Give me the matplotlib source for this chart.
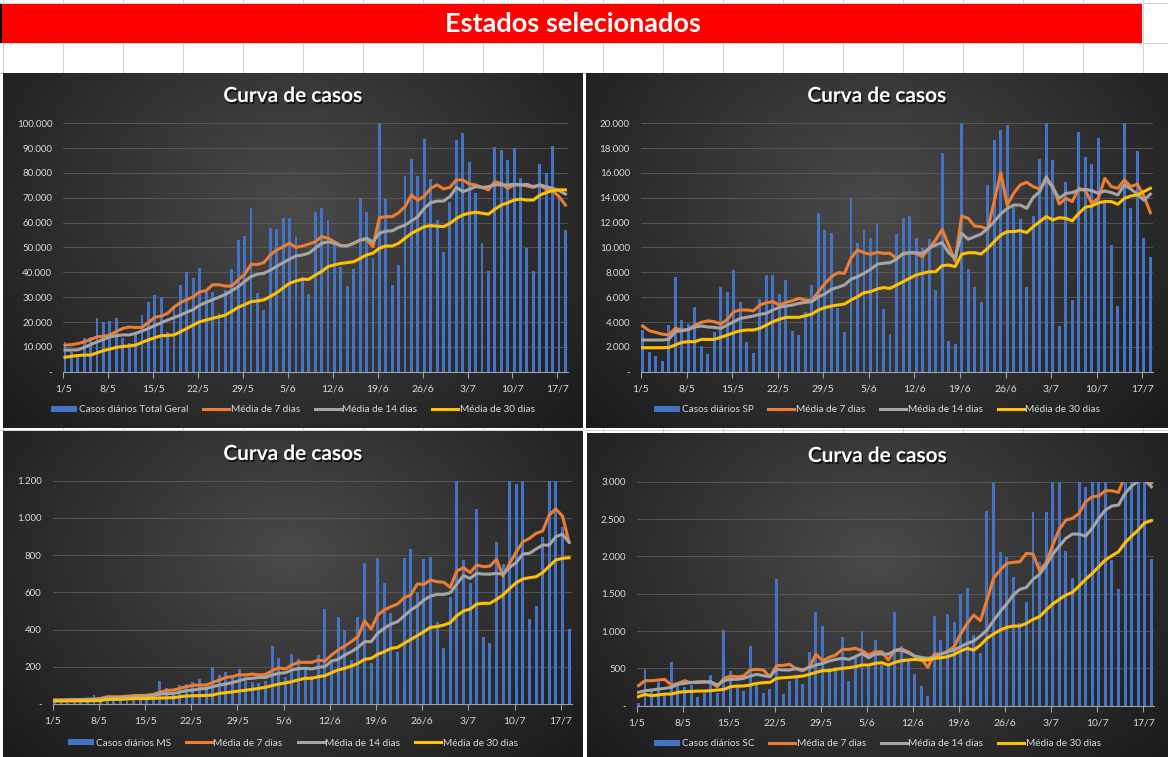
import numpy as np
import matplotlib
matplotlib.use('Agg')
import matplotlib.pyplot as plt
import matplotlib.patheffects as pe
from matplotlib.patches import Rectangle

plt.rcParams['font.family'] = ['Lato', 'DejaVu Sans']

# --- data ---
date_labels = ['1/5', '8/5', '15/5', '22/5', '29/5', '5/6', '12/6', '19/6',
               '26/6', '3/7', '10/7', '17/7']

tg_daily = [12000, 8000, 7000, 13400, 14000, 21500, 20000, 20500, 21500, 13400,
            11400, 16000, 22800, 28000, 30900, 30200, 16000, 26400, 35000, 40300,
            37600, 41600, 32200, 32000, 23500, 33000, 41300, 53000, 54600, 66000,
            31800, 24800, 57700, 57400, 62000, 62000, 54400, 38300, 31300, 64400,
            66000, 61000, 51700, 42300, 34500, 41300, 70000, 64400, 45600, 100000,
            69400, 34900, 43000, 78800, 85600, 78800, 93700, 77600, 61000, 48300,
            68500, 93300, 96000, 84600, 72000, 52000, 40500, 90600, 89300, 85200,
            90000, 77900, 49700, 40500, 83500, 79900, 90900, 70000, 57000]
tg_m7 = [10700, 10900, 11300, 12000, 13000, 14000, 14300, 14800, 16200, 17400,
         18000, 17800, 17800, 19800, 21900, 22400, 23500, 26000, 27800, 29000,
         30200, 32200, 32600, 35000, 35000, 34500, 34500, 37000, 39200, 43200,
         43200, 43900, 47000, 49000, 50300, 51700, 50000, 50600, 51400, 52300,
         54400, 53700, 52300, 50700, 50700, 51700, 53000, 53300, 50300, 62000,
         62400, 62400, 64000, 66400, 71100, 69000, 70700, 73800, 75200, 73600,
         74200, 77200, 77200, 75600, 75200, 74200, 73200, 76500, 75800, 73800,
         75200, 75200, 74800, 74200, 75200, 73400, 72900, 70500, 67100]
tg_m14 = [8700, 8700, 8800, 9800, 10900, 12000, 13000, 14000, 14500, 14800,
          14800, 15400, 16400, 17400, 18600, 19700, 20800, 21800, 22800, 24000,
          25000, 26800, 27900, 29000, 30000, 31100, 32600, 34200, 36300, 38300,
          39300, 39600, 40900, 42400, 43900, 45300, 46600, 47000, 47700, 49700,
          51700, 52300, 51700, 50700, 50700, 51700, 53000, 53700, 52300, 55700,
          56600, 56700, 58100, 59000, 60700, 62400, 65800, 68000, 68700, 68700,
          70500, 74200, 72500, 73400, 74500, 74200, 74500, 75200, 75200, 75200,
          75400, 75200, 75400, 74500, 75200, 74500, 73800, 72900, 71500]
tg_m30 = [5800, 6200, 6500, 6700, 6700, 7600, 8500, 9100, 9800, 10100,
          10400, 10700, 11800, 12800, 13700, 14500, 14600, 14800, 16100, 17400,
          18800, 20100, 20800, 21500, 22100, 22800, 24300, 25900, 27000, 28200,
          28500, 28900, 30300, 31800, 33700, 35600, 36500, 37200, 37200, 38900,
          40300, 42300, 43000, 43600, 43900, 44300, 45600, 47000, 47700, 49700,
          50600, 50600, 51700, 53700, 55700, 57000, 58400, 58800, 58600, 58400,
          59700, 61700, 63100, 63800, 64200, 63800, 63400, 65400, 67100, 68000,
          69100, 69500, 69100, 69100, 71100, 72100, 72900, 73200, 73200]

sp_daily = [3360, 1600, 1260, 860, 3760, 7600, 4160, 3840, 5240, 2070,
            1420, 3200, 6800, 6400, 8200, 5600, 2360, 1480, 5830, 7800,
            7800, 6260, 7400, 3280, 2950, 4780, 6980, 12750, 11400, 11140,
            5100, 3170, 14000, 10340, 11400, 10740, 12000, 5050, 3000, 11100,
            12400, 12500, 10740, 9940, 10660, 6580, 17600, 2470, 2230, 21000,
            8270, 6800, 5600, 15040, 18660, 19500, 19870, 13300, 12300, 6800,
            12500, 17100, 21000, 17050, 3680, 15250, 5770, 19330, 17260, 16700,
            18800, 13700, 10200, 5300, 21000, 13200, 17800, 10740, 9200]
sp_m7 = [3680, 3300, 3170, 3030, 2950, 3490, 3360, 3360, 3760, 3970,
         4100, 4030, 3840, 4200, 4830, 4970, 4970, 4900, 5370, 5560,
         5640, 5370, 5580, 5720, 5900, 5770, 5720, 6440, 7100, 7650,
         7970, 7920, 9130, 9800, 9580, 9450, 9610, 9530, 9530, 9130,
         9450, 9580, 9530, 9260, 9930, 10600, 11460, 10200, 8900, 12540,
         12350, 11730, 11680, 11460, 13700, 16030, 13420, 14360, 15040, 15250,
         14900, 14700, 15400, 14950, 13500, 13960, 13700, 14770, 14580, 13560,
         13960, 15570, 14900, 14770, 15440, 14900, 15100, 14150, 12800]
sp_m14 = [2550, 2550, 2550, 2550, 2600, 3220, 3300, 3400, 3600, 3680,
          3600, 3570, 3490, 3760, 4030, 4300, 4380, 4480, 4620, 4700,
          4970, 5180, 5290, 5370, 5500, 5580, 5640, 6040, 6260, 6630,
          6800, 6980, 7440, 7650, 7920, 8240, 8650, 8730, 8780, 9050,
          9530, 9580, 9580, 9530, 9930, 10200, 10390, 9580, 9130, 11140,
          10660, 10870, 11090, 11540, 12080, 12700, 13150, 13420, 13420, 13150,
          14040, 14500, 15700, 14770, 13960, 14360, 14420, 14630, 14680, 14580,
          14360, 14550, 14420, 14230, 15040, 14700, 14300, 13800, 14300]
sp_m30 = [1930, 1930, 1930, 1930, 1950, 2150, 2360, 2420, 2420, 2600,
          2600, 2600, 2770, 2950, 3140, 3300, 3360, 3360, 3490, 3760,
          4030, 4220, 4380, 4380, 4380, 4510, 4640, 4970, 5160, 5290,
          5370, 5450, 5770, 6040, 6360, 6440, 6660, 6770, 6710, 6980,
          7250, 7520, 7790, 7920, 8050, 8050, 8540, 8590, 8460, 9450,
          9580, 9580, 9480, 9930, 10470, 11000, 11280, 11280, 11360, 11200,
          11680, 12080, 12490, 12220, 12400, 12350, 12140, 12750, 13240, 13340,
          13600, 13700, 13700, 13480, 13960, 14150, 14230, 14500, 14770]

ms_daily = [22, 10, 8, 12, 15, 10, 48, 15, 40, 20, 45, 25, 35, 25, 28, 30,
            125, 88, 66, 100, 107, 116, 134, 93, 200, 156, 174, 156, 190, 138,
            120, 111, 125, 313, 249, 147, 269, 240,
            190, 150, 263, 510, 220, 466, 398, 236, 466, 756,
            219, 783, 648, 491, 281, 783, 833, 600, 777, 788,
            439, 299, 577, 1300, 774, 652, 1048, 358, 326, 869,
            750, 1300, 1182, 1250, 457, 527, 900, 1300, 1300, 949, 401]
ms_m7 = [21, 21, 22, 23, 24, 25, 25, 30, 39, 39, 39, 42, 45, 46, 47, 52,
         64, 72, 75, 84, 93, 100, 102, 102, 116, 129, 143, 147, 158, 156,
         161, 156, 159, 179, 195, 188, 210, 224,
         224, 224, 236, 231, 263, 290, 312, 335, 362, 446,
         403, 478, 505, 523, 537, 571, 586, 645, 643, 666,
         657, 654, 627, 715, 733, 706, 747, 738, 741, 777,
         688, 756, 818, 872, 890, 917, 930, 1016, 1048, 1010, 869]
ms_m14 = [21, 21, 22, 23, 24, 25, 26, 28, 32, 34, 36, 37, 39, 39, 40, 45,
          54, 55, 57, 64, 72, 75, 81, 84, 93, 102, 107, 116, 125, 136,
          138, 143, 143, 156, 165, 168, 183, 190,
          192, 188, 197, 201, 231, 240, 263, 281, 304, 335,
          335, 380, 407, 430, 442, 473, 505, 527, 559, 580,
          589, 589, 598, 645, 690, 675, 702, 698, 698, 702,
          698, 734, 761, 806, 810, 833, 854, 854, 899, 913, 869]
ms_m30 = [16, 16, 16, 17, 17, 17, 18, 18, 25, 25, 25, 27, 29, 29, 29, 31,
          32, 33, 34, 39, 43, 44, 45, 46, 48, 57, 61, 65, 70, 74,
          79, 84, 90, 99, 107, 113, 120, 130,
          138, 138, 147, 152, 168, 183, 192, 204, 218, 240,
          245, 267, 281, 299, 304, 326, 347, 367, 389, 412,
          416, 424, 437, 475, 500, 510, 537, 541, 541, 562,
          586, 621, 652, 672, 679, 684, 706, 741, 774, 783, 786]

sc_daily = [40, 491, 220, 312, 160, 589, 275, 254, 275, 120,
            165, 410, 165, 1013, 468, 254, 200, 799, 300, 174,
            223, 1696, 156, 335, 366, 290, 723, 1259, 1067, 509,
            522, 924, 335, 640, 1004, 545, 879, 545,
            560, 1259, 799, 620, 424, 263, 134, 1201, 879, 1228,
            1125, 1495, 1580, 946, 710, 2607, 3200, 2053, 1995, 1728,
            1103, 1384, 2598, 1928, 2598, 3200, 3100, 2071, 1714, 3150,
            2933, 3200, 3200, 3200, 1951, 1562, 3200, 3200, 3200, 3200, 1964]
sc_m7 = [268, 335, 335, 344, 353, 277, 299, 335, 308, 321,
         321, 312, 254, 366, 397, 388, 397, 478, 487, 478,
         388, 536, 540, 554, 491, 469, 522, 687, 603, 647,
         679, 754, 754, 768, 737, 679, 723, 723,
         612, 745, 759, 723, 665, 634, 513, 692, 692, 723,
         790, 960, 1103, 1214, 1138, 1415, 1705, 1817, 1906, 1920,
         1928, 2040, 2031, 1808, 1915, 2152, 2361, 2486, 2509, 2576,
         2732, 2799, 2808, 2879, 2879, 2857, 3080, 3100, 3100, 3060, 2980]
sc_m14 = [179, 201, 210, 223, 232, 246, 286, 299, 312, 312,
          317, 321, 277, 335, 353, 353, 366, 397, 420, 402,
          388, 487, 478, 478, 500, 478, 513, 545, 567, 598,
          620, 634, 620, 656, 701, 643, 692, 692,
          692, 737, 745, 710, 665, 647, 634, 656, 692, 723,
          745, 790, 835, 866, 933, 1013, 1138, 1259, 1362, 1482,
          1558, 1585, 1692, 1759, 1884, 2027, 2138, 2241, 2299, 2299,
          2272, 2375, 2509, 2620, 2674, 2688, 2844, 2942, 3009, 3022, 2933]
sc_m30 = [121, 152, 134, 143, 156, 156, 179, 187, 192, 196,
          196, 201, 210, 219, 254, 263, 263, 277, 299, 308,
          312, 366, 375, 379, 388, 397, 420, 446, 469, 469,
          487, 500, 509, 522, 545, 545, 567, 575,
          545, 580, 603, 612, 620, 612, 612, 634, 643, 656,
          687, 732, 768, 745, 812, 902, 960, 1013, 1049, 1067,
          1067, 1103, 1156, 1192, 1281, 1362, 1424, 1482, 1518, 1603,
          1692, 1772, 1862, 1951, 2009, 2062, 2183, 2272, 2353, 2451, 2478]

W, H = 1168, 757
fig = plt.figure(figsize=(W / 100, H / 100), dpi=100)
fig.patch.set_facecolor('white')


def px_axes(l, t, r, b, **kw):
    return fig.add_axes([l / W, 1 - b / H, (r - l) / W, (b - t) / H], **kw)


# --- spreadsheet background ---
sheet = px_axes(0, 0, W, H)
sheet.set_xlim(0, W)
sheet.set_ylim(H, 0)
sheet.axis('off')
for cx in np.arange(2.7, W, 60):
    sheet.plot([cx, cx], [0, H], color='#d4d4d4', lw=0.8, zorder=1)
for ry in [3, 43, 73, 430]:
    sheet.plot([0, W], [ry, ry], color='#d4d4d4', lw=0.8, zorder=1)
sheet.add_patch(Rectangle((2, 4), 1140, 39, color='#ff0000', lw=0, zorder=2))
sheet.add_patch(Rectangle((0, 4), 2, 39, color='#111111', lw=0, zorder=2))
sheet.text(573, 23.5, 'Estados selecionados', ha='center', va='center',
           color='white', fontsize=19.5, fontweight='bold', zorder=3)


def fmt_num(v):
    if v == 0:
        return '-'
    return f'{int(v):,}'.replace(',', '.')


def draw_panel(panel_px, plot_px, ymax, ystep, daily, m7, m14, m30, label, leg_y):
    l, t, r, b = panel_px
    bg = px_axes(l, t, r, b)
    bg.axis('off')
    # radial dark gradient like the Excel chart style
    u = np.linspace(0, 1, 300)
    v = np.linspace(0, 1, 200)
    uu, vv = np.meshgrid(u, v)
    d = np.sqrt(((uu - 0.5) / 0.62) ** 2 + ((vv - 0.38) / 0.85) ** 2)
    g = np.clip(0.29 - 0.17 * d, 0.09, 0.3)
    bg.imshow(np.dstack([g, g, g]), extent=(0, 1, 0, 1), origin='upper',
              aspect='auto', interpolation='bilinear')
    bg.set_xlim(0, 1)
    bg.set_ylim(0, 1)
    ph = b - t
    bg.text(0.5, 1 - 23 / ph, 'Curva de casos', ha='center', va='center',
            color='white', fontsize=15, fontweight='bold',
            path_effects=[pe.withSimplePatchShadow(offset=(1, -1.5),
                                                   shadow_rgbFace='black',
                                                   alpha=0.7)])

    ax = px_axes(*plot_px)
    ax.set_facecolor('none')
    x = np.arange(len(daily))
    hb = ax.bar(x, daily, width=0.45, color='#4472C4', zorder=2, label=label)
    h7, = ax.plot(x, m7, color='#ED7D31', lw=2.2, zorder=3,
                  solid_joinstyle='round', label='Média de 7 dias')
    h14, = ax.plot(x, m14, color='#A5A5A5', lw=2.2, zorder=4,
                   solid_joinstyle='round', label='Média de 14 dias')
    h30, = ax.plot(x, m30, color='#FFC000', lw=2.2, zorder=5,
                   solid_joinstyle='round', label='Média de 30 dias')
    ax.set_xlim(-0.26, 78.4)
    ax.set_ylim(0, ymax)
    yt = np.arange(0, ymax + 1, ystep)
    ax.set_yticks(yt)
    ax.set_yticklabels([fmt_num(vv) for vv in yt])
    ax.set_xticks(np.arange(0, 78, 7) - 0.26)
    ax.set_xticklabels(date_labels)
    ax.grid(axis='y', color='#5c5c5c', lw=0.6, zorder=0)
    ax.set_axisbelow(True)
    for s in ['top', 'right', 'left']:
        ax.spines[s].set_visible(False)
    ax.spines['bottom'].set_color('#a0a0a0')
    ax.spines['bottom'].set_linewidth(0.8)
    ax.tick_params(axis='y', length=0, colors='#d9d9d9', labelsize=7, pad=8)
    ax.tick_params(axis='x', length=4, color='#a0a0a0', colors='#d9d9d9',
                   labelsize=7.5, pad=5)

    bg.legend([hb, h7, h14, h30],
              [label, 'Média de 7 dias', 'Média de 14 dias', 'Média de 30 dias'],
              loc='center', bbox_to_anchor=(0.5, 1 - (leg_y - t) / ph),
              ncol=4, frameon=False, fontsize=7.2, handlelength=2.6,
              handleheight=0.6, handletextpad=0.15, columnspacing=1.5,
              labelcolor='#d9d9d9')
    return ax


draw_panel((3, 73, 583, 428), (63.3, 123.3, 568, 371.7), 100000, 10000,
           tg_daily, tg_m7, tg_m14, tg_m30, 'Casos diários Total Geral', 410)
draw_panel((586, 73, 1168, 428), (641, 123.3, 1153, 371.7), 20000, 2000,
           sp_daily, sp_m7, sp_m14, sp_m30, 'Casos diários SP', 410)
draw_panel((3, 431, 583, 757), (52.7, 480.7, 571.7, 704), 1200, 200,
           ms_daily, ms_m7, ms_m14, ms_m30, 'Casos diários MS', 743)
draw_panel((587, 433, 1168, 757), (636.7, 481.7, 1154, 705.7), 3000, 500,
           sc_daily, sc_m7, sc_m14, sc_m30, 'Casos diários SC', 744)

fig.savefig('out.png', dpi=100)
